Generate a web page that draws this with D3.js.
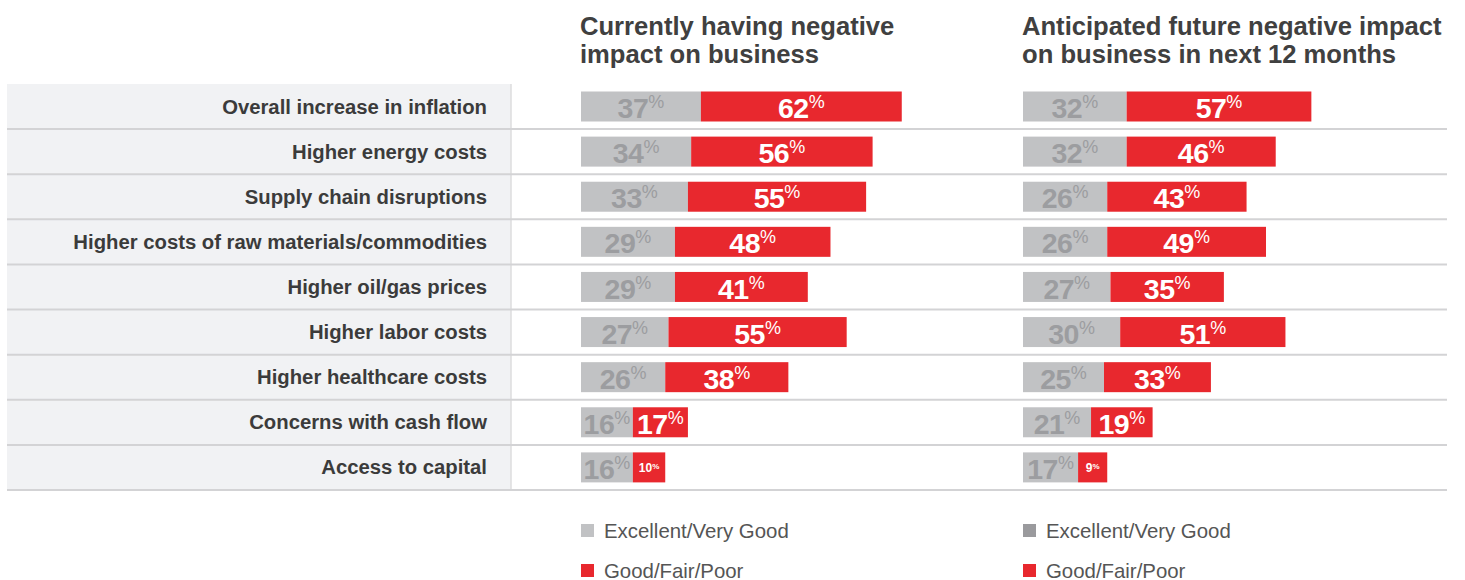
<!DOCTYPE html>
<html>
<head>
<meta charset="utf-8">
<script src="https://cdn.jsdelivr.net/npm/d3@7"></script>
<style>
  html, body { margin: 0; padding: 0; background: #ffffff; }
  svg { display: block; font-family: "Liberation Sans", Arial, Helvetica, sans-serif; }
</style>
</head>
<body>
<svg id="chart" width="1465" height="580"></svg>
<script>
// ---- Data ----
const categories = [
  "Overall increase in inflation",
  "Higher energy costs",
  "Supply chain disruptions",
  "Higher costs of raw materials/commodities",
  "Higher oil/gas prices",
  "Higher labor costs",
  "Higher healthcare costs",
  "Concerns with cash flow",
  "Access to capital"
];
const currentExcellent = [37, 34, 33, 29, 29, 27, 26, 16, 16];
const currentGoodFairPoor = [62, 56, 55, 48, 41, 55, 38, 17, 10];
const futureExcellent = [32, 32, 26, 26, 27, 30, 25, 21, 17];
const futureGoodFairPoor = [57, 46, 43, 49, 35, 51, 33, 19, 9];
const panelTitles = [
  ["Currently having negative", "impact on business"],
  ["Anticipated future negative impact", "on business in next 12 months"]
];
const legendLabels = ["Excellent/Very Good", "Good/Fair/Poor"];

// ---- Styles ----
const GRAY = "#c1c2c4", GRAY_TXT = "#9c9da0", RED = "#e8282e";
const svg = d3.select("#chart");

const y = d3.scaleBand().domain(categories).range([84, 490]).padding(0);
const x = d3.scaleLinear().domain([0, 100]).range([0, 324]);

// label panel background
svg.append("rect").attr("x", 7).attr("y", 84).attr("width", 504).attr("height", 406).attr("fill", "#f1f2f4");
svg.append("line").attr("x1", 511).attr("x2", 511).attr("y1", 84).attr("y2", 490)
  .attr("stroke", "#dcdcde").attr("stroke-width", 1.5);

// separators
svg.selectAll("line.sep").data(categories).enter().append("line").attr("class", "sep")
  .attr("x1", 7).attr("x2", 1447)
  .attr("y1", d => y(d) + y.bandwidth()).attr("y2", d => y(d) + y.bandwidth())
  .attr("stroke", "#d3d3d5").attr("stroke-width", 2);

// category labels
svg.selectAll("text.cat").data(categories).enter().append("text").attr("class", "cat")
  .attr("x", 487).attr("y", d => y(d) + y.bandwidth() / 2 + 7)
  .attr("text-anchor", "end").attr("font-size", "20.3px").attr("font-weight", "bold")
  .attr("fill", "#3b3b3b").text(d => d);

const panels = [
  { x0: 581, ex: currentExcellent, gp: currentGoodFairPoor, title: panelTitles[0], legGray: "#c1c2c4" },
  { x0: 1023, ex: futureExcellent, gp: futureGoodFairPoor, title: panelTitles[1], legGray: "#9a9a9d" }
];

panels.forEach(p => {
  const g = svg.append("g");
  // title
  p.title.forEach((t, i) => {
    g.append("text").attr("x", p.x0 - 1).attr("y", 35 + i * 28)
      .attr("font-size", "25.6px").attr("font-weight", "bold").attr("fill", "#404040").text(t);
  });
  const rows = categories.map((c, i) => ({ c, ex: p.ex[i], gp: p.gp[i] }));
  // gray segments
  g.selectAll("rect.ex").data(rows).enter().append("rect")
    .attr("x", p.x0).attr("y", d => y(d.c) + 7.5)
    .attr("width", d => x(d.ex)).attr("height", 30).attr("fill", GRAY);
  // red segments
  g.selectAll("rect.gp").data(rows).enter().append("rect")
    .attr("x", d => p.x0 + x(d.ex)).attr("y", d => y(d.c) + 7.5)
    .attr("width", d => x(d.gp)).attr("height", 30).attr("fill", RED);

  function addLabel(sel, getVal, getCenter, color) {
    sel.each(function(d) {
      const v = getVal(d);
      const small = v < 12;
      const t = d3.select(this).append("text")
        .attr("x", getCenter(d))
        .attr("y", y(d.c) + y.bandwidth() / 2 + (small ? 5 : 11.5))
        .attr("text-anchor", "middle").attr("fill", color);
      t.append("tspan").attr("font-size", small ? "12px" : "28.5px").attr("font-weight", "bold")
        .attr("letter-spacing", small ? "0" : "-0.5px").text(v);
      t.append("tspan").attr("font-size", small ? "8px" : "18px").attr("font-weight", small ? "bold" : "normal")
        .attr("dy", small ? -3 : -10).text("%");
    });
  }
  const lg = g.selectAll("g.lab").data(rows).enter().append("g");
  addLabel(lg, d => d.ex, d => p.x0 + x(d.ex) / 2, GRAY_TXT);
  addLabel(lg, d => d.gp, d => p.x0 + x(d.ex) + x(d.gp) / 2, "#ffffff");

  // legend
  const legColors = [p.legGray, RED];
  legendLabels.forEach((l, i) => {
    g.append("rect").attr("x", p.x0).attr("y", 524 + i * 40).attr("width", 13).attr("height", 13).attr("fill", legColors[i]);
    g.append("text").attr("x", p.x0 + 23).attr("y", 537.5 + i * 40)
      .attr("font-size", "20.4px").attr("fill", "#555555").text(l);
  });
});
</script>
</body>
</html>
